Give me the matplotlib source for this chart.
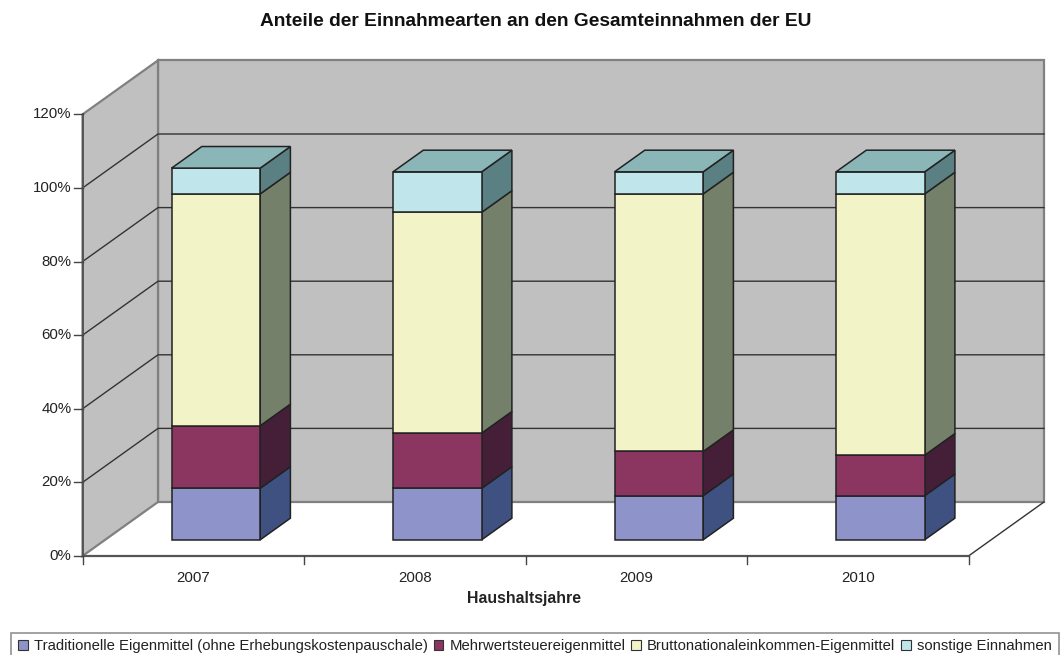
import matplotlib
matplotlib.use('Agg')
from matplotlib import pyplot as plt
from matplotlib.patches import Polygon, Patch

plt.rcParams['font.family'] = ['Liberation Sans', 'DejaVu Sans']

years = ['2007', '2008', '2009', '2010']
series_names = ['Traditionelle Eigenmittel (ohne Erhebungskostenpauschale)',
                'Mehrwertsteuereigenmittel',
                'Bruttonationaleinkommen-Eigenmittel',
                'sonstige Einnahmen']
traditionelle = [14, 14, 12, 12]
mehrwertsteuer = [17, 15, 12, 11]
bruttonational = [63, 60, 70, 71]
sonstige = [7, 11, 6, 6]
all_series = [traditionelle, mehrwertsteuer, bruttonational, sonstige]

front_colors = ['#8E93C9', '#8B3660', '#F3F3C8', '#C0E5EB']
side_colors = ['#3F5181', '#451F38', '#75806A', '#5A8083']
top_color = '#8AB6B7'
wall_color = '#C0C0C0'

# scale of the chart in pixels
CAT_PX = 221.5
PCT_PX = 3.68
ORIGIN_X = 82.5
ORIGIN_Y = 556
W, H = 1063, 655
# how far the back wall is pushed, in axis units
DEPTH_X = 75.5 / CAT_PX
DEPTH_Y = 54 / PCT_PX


def pt(cat, pct, depth=0.0):
    return (cat + depth * DEPTH_X, pct + depth * DEPTH_Y)


fig = plt.figure(figsize=(W / 100, H / 100), dpi=100)
ax = fig.add_axes([0, 0, 1, 1])
ax.set_xlim(-ORIGIN_X / CAT_PX, (W - ORIGIN_X) / CAT_PX)
ax.set_ylim(-(H - ORIGIN_Y) / PCT_PX, ORIGIN_Y / PCT_PX)
ax.axis('off')

n = len(years)
y_ticks = [0, 20, 40, 60, 80, 100, 120]
top = y_ticks[-1]

# walls
ax.add_patch(Polygon([pt(0, 0, 1), pt(n, 0, 1), pt(n, top, 1), pt(0, top, 1)],
                     fc=wall_color, ec='#808080', lw=1.6, zorder=1))
ax.add_patch(Polygon([pt(0, 0), pt(0, 0, 1), pt(0, top, 1), pt(0, top)],
                     fc=wall_color, ec='#808080', lw=1.6, zorder=1))

# gridlines on both walls
for t in y_ticks[1:-1]:
    xs, ys = zip(pt(0, t), pt(0, t, 1), pt(n, t, 1))
    ax.plot(xs, ys, color='#333333', lw=1.0, zorder=2)

# floor edge on the right
xs, ys = zip(pt(n, 0), pt(n, 0, 1))
ax.plot(xs, ys, color='#333333', lw=1.0, zorder=2)

# axis lines and ticks
ax.plot([0, 0], [0, top], color='#555555', lw=1.4, zorder=6)
ax.plot([0, n], [0, 0], color='#555555', lw=1.6, zorder=6)
for t in y_ticks:
    ax.plot([-9 / CAT_PX, 0], [t, t], color='#444444', lw=1.0, zorder=6)
    ax.text(-11 / CAT_PX, t, '%d%%' % t, ha='right', va='center',
            fontsize=10.8, color='#222222')
for i in range(n + 1):
    ax.plot([i, i], [0, -8 / PCT_PX], color='#444444', lw=1.0, zorder=6)

# the bars
bar_w = 0.4
for i in range(n):
    x0 = i + 0.3
    x1 = x0 + bar_w
    bottom = 0
    for j, values in enumerate(all_series):
        t = bottom + values[i]
        ax.add_patch(Polygon([pt(x1, bottom, 0.3), pt(x1, t, 0.3), pt(x1, t, 0.7), pt(x1, bottom, 0.7)],
                             fc=side_colors[j], ec='#222222', lw=1.1, zorder=3))
        ax.add_patch(Polygon([pt(x0, bottom, 0.3), pt(x1, bottom, 0.3), pt(x1, t, 0.3), pt(x0, t, 0.3)],
                             fc=front_colors[j], ec='#222222', lw=1.1, zorder=4))
        bottom = t
    ax.add_patch(Polygon([pt(x0, bottom, 0.3), pt(x1, bottom, 0.3), pt(x1, bottom, 0.7), pt(x0, bottom, 0.7)],
                         fc=top_color, ec='#222222', lw=1.1, zorder=4))
    ax.text(i + 0.5, -21.5 / PCT_PX, years[i], ha='center', va='center',
            fontsize=10.8, color='#222222')

fig.text(536 / W, 1 - 22 / H, 'Anteile der Einnahmearten an den Gesamteinnahmen der EU',
         ha='center', va='center', fontsize=13.8, fontweight='bold', color='#111111')
fig.text(524 / W, 1 - 599 / H, 'Haushaltsjahre', ha='center', va='center',
         fontsize=11.4, fontweight='bold', color='#222222')

handles = [Patch(fc=front_colors[j], ec='#333333', lw=0.8, label=series_names[j]) for j in range(4)]
leg = fig.legend(handles=handles, ncol=4, loc='upper center', bbox_to_anchor=(535 / W, 1 - 632.5 / H),
                 fontsize=10.75, frameon=True, fancybox=False, edgecolor='#777777',
                 handlelength=0.65, handleheight=0.65, handletextpad=0.4, columnspacing=0.4,
                 borderaxespad=0, borderpad=0.45, labelcolor='#222222')
leg.get_frame().set_linewidth(1.2)

plt.savefig('out.png', dpi=100)
